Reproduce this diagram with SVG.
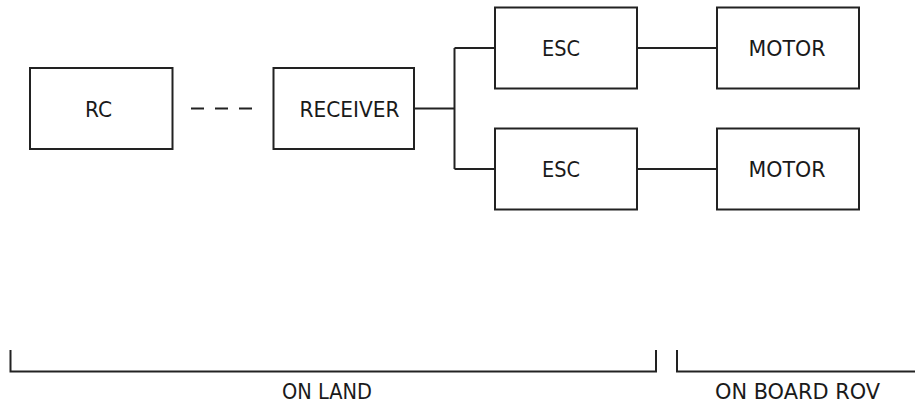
<svg xmlns="http://www.w3.org/2000/svg" width="915" height="408" viewBox="0 0 915 408">
  <style>
    .box { fill: #ffffff; stroke: #222222; stroke-width: 2; }
    .wire { fill: none; stroke: #222222; stroke-width: 2; }
    .dash { fill: none; stroke: #222222; stroke-width: 2; stroke-dasharray: 13 11; }
    .bracket { fill: none; stroke: #222222; stroke-width: 2; }
    text { font-family: "DejaVu Sans Condensed", "DejaVu Sans", "Liberation Sans", sans-serif; font-size: 21px; fill: #1a1a1a; text-anchor: middle; }
  </style>
  <rect width="915" height="408" fill="#ffffff"/>

  <!-- connectors -->
  <g id="connectors">
    <path class="dash" d="M191 108.5 H253"/>
    <path class="wire" d="M414 108.5 H454.5"/>
    <path class="wire" d="M454.5 48 V169"/>
    <path class="wire" d="M454.5 48 H495"/>
    <path class="wire" d="M454.5 169 H495"/>
    <path class="wire" d="M637 48 H717"/>
    <path class="wire" d="M637 169 H717"/>
  </g>

  <!-- nodes -->
  <g id="rc">
    <rect class="box" x="30" y="68" width="142.5" height="81"/>
    <text x="98.5" y="116.5" textLength="27" lengthAdjust="spacingAndGlyphs">RC</text>
  </g>
  <g id="receiver">
    <rect class="box" x="273.5" y="68" width="140.5" height="81"/>
    <text x="349.5" y="116.5" textLength="100" lengthAdjust="spacingAndGlyphs">RECEIVER</text>
  </g>
  <g id="esc-1">
    <rect class="box" x="495" y="7.5" width="142" height="81"/>
    <text x="561" y="56" textLength="38" lengthAdjust="spacingAndGlyphs">ESC</text>
  </g>
  <g id="esc-2">
    <rect class="box" x="495" y="128.5" width="142" height="81"/>
    <text x="561" y="177" textLength="38" lengthAdjust="spacingAndGlyphs">ESC</text>
  </g>
  <g id="motor-1">
    <rect class="box" x="717" y="7.5" width="142" height="81"/>
    <text x="787" y="56" textLength="77" lengthAdjust="spacingAndGlyphs">MOTOR</text>
  </g>
  <g id="motor-2">
    <rect class="box" x="717" y="128.5" width="142" height="81"/>
    <text x="787" y="177" textLength="77" lengthAdjust="spacingAndGlyphs">MOTOR</text>
  </g>

  <!-- zone brackets -->
  <g id="zone-land">
    <path class="bracket" d="M10.5 350 V371.5 H656 V350"/>
    <text x="327" y="398.5" textLength="90" lengthAdjust="spacingAndGlyphs">ON LAND</text>
  </g>
  <g id="zone-rov">
    <path class="bracket" d="M677 350 V371.5 H916"/>
    <text x="797.5" y="398.5" textLength="165" lengthAdjust="spacingAndGlyphs">ON BOARD ROV</text>
  </g>
</svg>
